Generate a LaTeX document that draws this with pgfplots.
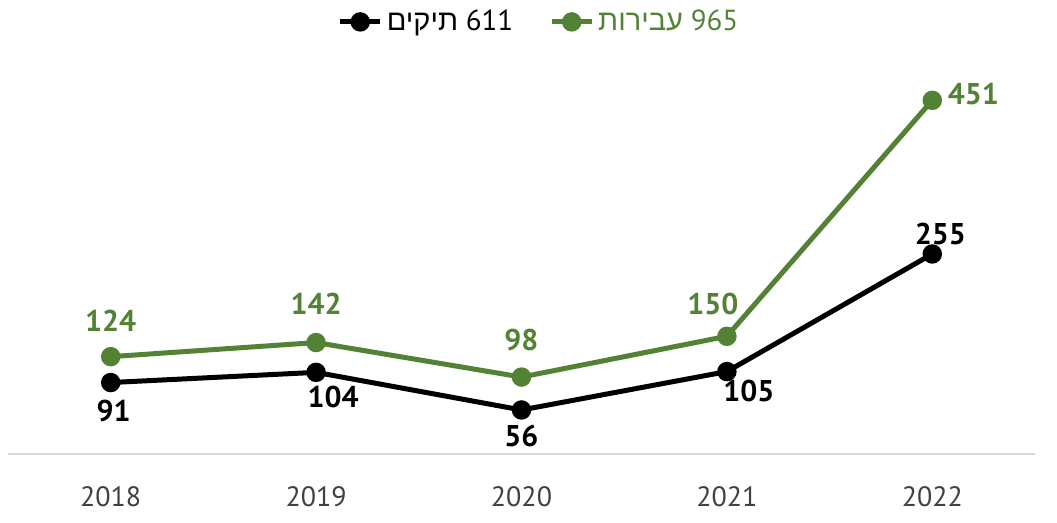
\documentclass[border=0pt]{standalone}
\usepackage{pgfplots}
\pgfplotsset{compat=1.18}
\usepackage{pgfplotstable}
\usepackage{fontspec}
\setmainfont{PT Sans}
\newfontfamily\hebfont[Script=Hebrew]{Liberation Sans}
\TeXXeTstate=1
\definecolor{grn}{HTML}{548235}
\definecolor{tickgray}{HTML}{404040}
\definecolor{axln}{HTML}{D9D9D9}

% cases (black) and offences (green); dx, dy place the value labels
\pgfplotstableread{
x y dx dy
0 91 1.5 -14
1 104 8.5 -12.5
2 56 0 -13
3 105 11 -9.5
4 255 4 10
}\cases
\pgfplotstableread{
x y dx dy
0 124 0 18
1 142 0 19.5
2 98 0 18.5
3 150 -7 16
4 451 20.5 3
}\offences

\begin{document}
\begin{tikzpicture}
\begin{axis}[
  at={(4pt,34.55pt)}, anchor=south west,
  scale only axis, width=513.5pt, height=196pt,
  xmin=-0.5, xmax=4.5, ymin=0, ymax=500,
  axis y line=none, axis x line*=bottom,
  x axis line style={axln, line width=1pt, -},
  xtick={0,...,4}, xticklabels={2018,2019,2020,2021,2022},
  major tick length=0pt,
  xticklabel style={font=\fontsize{14}{16}\selectfont, text=tickgray, yshift=-13pt},
  clip=false,
  /pgf/number format/assume math mode=true,
  legend style={at={(0.518,1.102)}, anchor=center, draw=none, fill=none,
    legend columns=-1, font=\fontsize{14.5}{16}\selectfont,
    /tikz/every even column/.append style={column sep=16pt}},
  legend image code/.code={\draw[mark repeat=2,mark phase=2,#1]
    plot coordinates {(0pt,0pt)(10pt,0pt)(20pt,0pt)};},
  nodes near coords,
  visualization depends on={\thisrow{dx}\as\dx},
  visualization depends on={\thisrow{dy}\as\dy},
  nodes near coords style={anchor=center, xshift=\dx pt, yshift=\dy pt,
    font=\fontsize{15}{17}\selectfont\bfseries},
]
\addplot[black, line width=2.5pt, mark=*, mark size=3.6pt,
  nodes near coords style={text=black}] table[x=x, y=y] {\cases};
\addlegendentry{\hbox{\hebfont\beginR תיקים\endR} 611}
\addplot[grn, line width=2.5pt, mark=*, mark size=3.6pt,
  nodes near coords style={text=grn}] table[x=x, y=y] {\offences};
\addlegendentry{\textcolor{grn}{\hbox{\hebfont\beginR עבירות\endR} 965}}
\end{axis}
\pgfresetboundingbox
\useasboundingbox (0,0) rectangle (528.5pt,261.5pt);
\end{tikzpicture}
\end{document}
